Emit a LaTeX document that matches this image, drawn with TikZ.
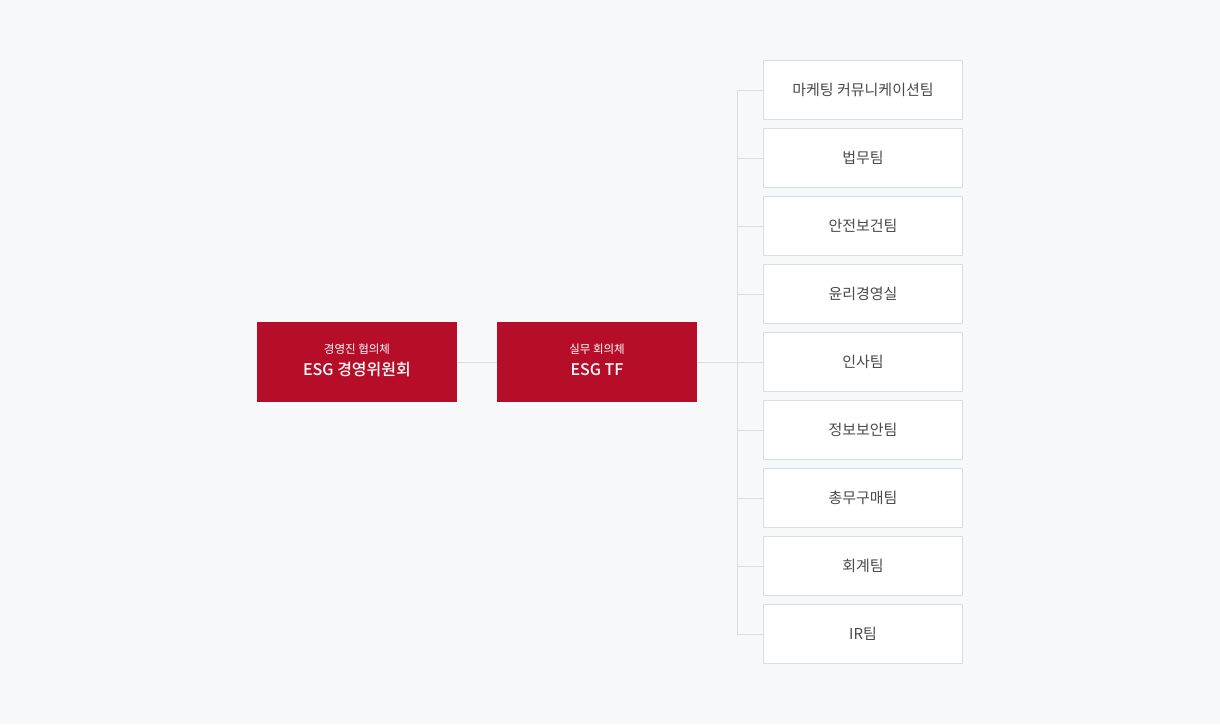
\documentclass[tikz,border=0pt]{standalone}
\usepackage{fontspec}
\setmainfont{Noto Sans CJK KR}
\newfontfamily\krmed{Noto Sans CJK KR Medium}
\definecolor{bg}{HTML}{F7F8FA}
\definecolor{esgred}{HTML}{B60E28}
\definecolor{lineg}{HTML}{D9DEE6}
\definecolor{txt}{HTML}{4A4A4A}
\tikzset{
  redbox/.style={fill=esgred, minimum width=200pt, minimum height=80pt, inner sep=0pt, text=white, align=center},
  teambox/.style={draw=lineg, line width=1pt, fill=white, minimum width=199pt, minimum height=59pt, inner sep=0pt, text=txt, font=\fontsize{15pt}{18pt}\selectfont},
  conn/.style={draw=lineg, line width=1pt}
}
\begin{document}
\begin{tikzpicture}[x=1pt,y=-1pt]
\fill[bg] (0,0) rectangle (1220,724);
\useasboundingbox (0,0) rectangle (1220,724);
\node[redbox] (c) at (357,362) {};
\node[text=white, font=\fontsize{11.5pt}{13pt}\selectfont] (ct) at (357,349) {경영진 협의체};
\node[text=white, font=\krmed\fontsize{16pt}{19pt}\selectfont] (cm) at (357,370) {ESG 경영위원회};
\node[redbox] (t) at (597,362) {};
\node[text=white, font=\fontsize{11.5pt}{13pt}\selectfont] (tt) at (597,349) {실무 회의체};
\node[text=white, font=\krmed\fontsize{16pt}{19pt}\selectfont] (tm) at (597,370) {ESG TF};
\draw[conn] (c.east) -- (t.west);
\coordinate (j) at (737,362);
\draw[conn] (t.east) -- (j);
\foreach \i/\name in {0/마케팅 커뮤니케이션팀,1/법무팀,2/안전보건팀,3/윤리경영실,4/인사팀,5/정보보안팀,6/총무구매팀,7/회계팀,8/IR팀}{
  \node[teambox] (b\i) at (863,90+68*\i) {\name};
  \coordinate (k\i) at (737,90+68*\i);
  \draw[conn] (k\i) -- (b\i.west);
}
\draw[conn] (k0) -- (k8);
\end{tikzpicture}
\end{document}
